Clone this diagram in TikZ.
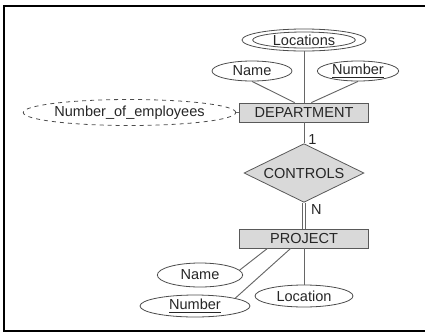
\documentclass[tikz,border=0pt]{standalone}
\usepackage{fontspec}
\setmainfont{Liberation Sans}
\usetikzlibrary{shapes.geometric}
\tikzset{every node/.style={font=\fontsize{10.9}{12}\selectfont,text=black!85,inner sep=0pt},
attr/.style={ellipse,draw=black!70,line width=.6pt},entity/.style={rectangle,draw=black!65,fill=black!15,line width=.6pt,minimum width=97pt,minimum height=14.25pt},
relship/.style={diamond,aspect=2,draw=black!65,fill=black!15,line width=.6pt,minimum width=90pt,minimum height=44pt},edge/.style={draw=black!60,line width=.7pt}}

\begin{document}
\begin{tikzpicture}[x=.75pt,y=-.75pt]
\useasboundingbox (0,0) rectangle (425,333);
\draw[line width=1.6pt] (432,6)--(4,6)--(4,331)--(432,331);
% DEPARTMENT with its attributes
\node[entity] (dep) at (304,112.5){DEPARTMENT};
\node[attr,minimum width=93pt,minimum height=16.5pt] (locs) at (304,40){};\node[attr,minimum width=77pt,minimum height=12pt] (locsin) at (304,40){Locations};
\node[attr,minimum width=60pt,minimum height=15pt] (dname) at (252,71){Name};\node[attr,minimum width=61pt,minimum height=15pt] (dnum) at (358,71){\underline{Number}};
\node[attr,dashed,minimum width=131pt,minimum height=19.5pt] (nemp) at (129.5,112.5){Number\_of\_employees};
\draw[edge] (locs)--(dep);\draw[edge] (dname.south)--([xshift=-7pt]dep.north);\draw[edge] (dnum.south)--([xshift=5.5pt]dep.north);\draw[edge] (nemp)--(dep);
% relationship
\node[relship] (ctrl) at (304,173){CONTROLS};
\draw[edge] (dep)--(ctrl) node[pos=.8,right=3pt] (one){1};
\node[entity] (proj) at (304,238.5){PROJECT};
\draw[edge,double,double distance=2.2pt] (ctrl)--(proj) node[pos=.25,right=5pt] (card){N};
% PROJECT attributes
\node[attr,minimum width=64pt,minimum height=18pt] (pname) at (200,275){Name};\node[attr,minimum width=82.5pt,minimum height=16.5pt] (pnum) at (195,306){\underline{Number}};
\node[attr,minimum width=73.5pt,minimum height=16.5pt] (ploc) at (304,296){Location};
\draw[edge] ([xshift=-27.4pt]proj.south)--(pname.7);\draw[edge] ([xshift=-10pt]proj.south)--(pnum.11);\draw[edge] (proj)--(ploc);
\end{tikzpicture}
\end{document}
